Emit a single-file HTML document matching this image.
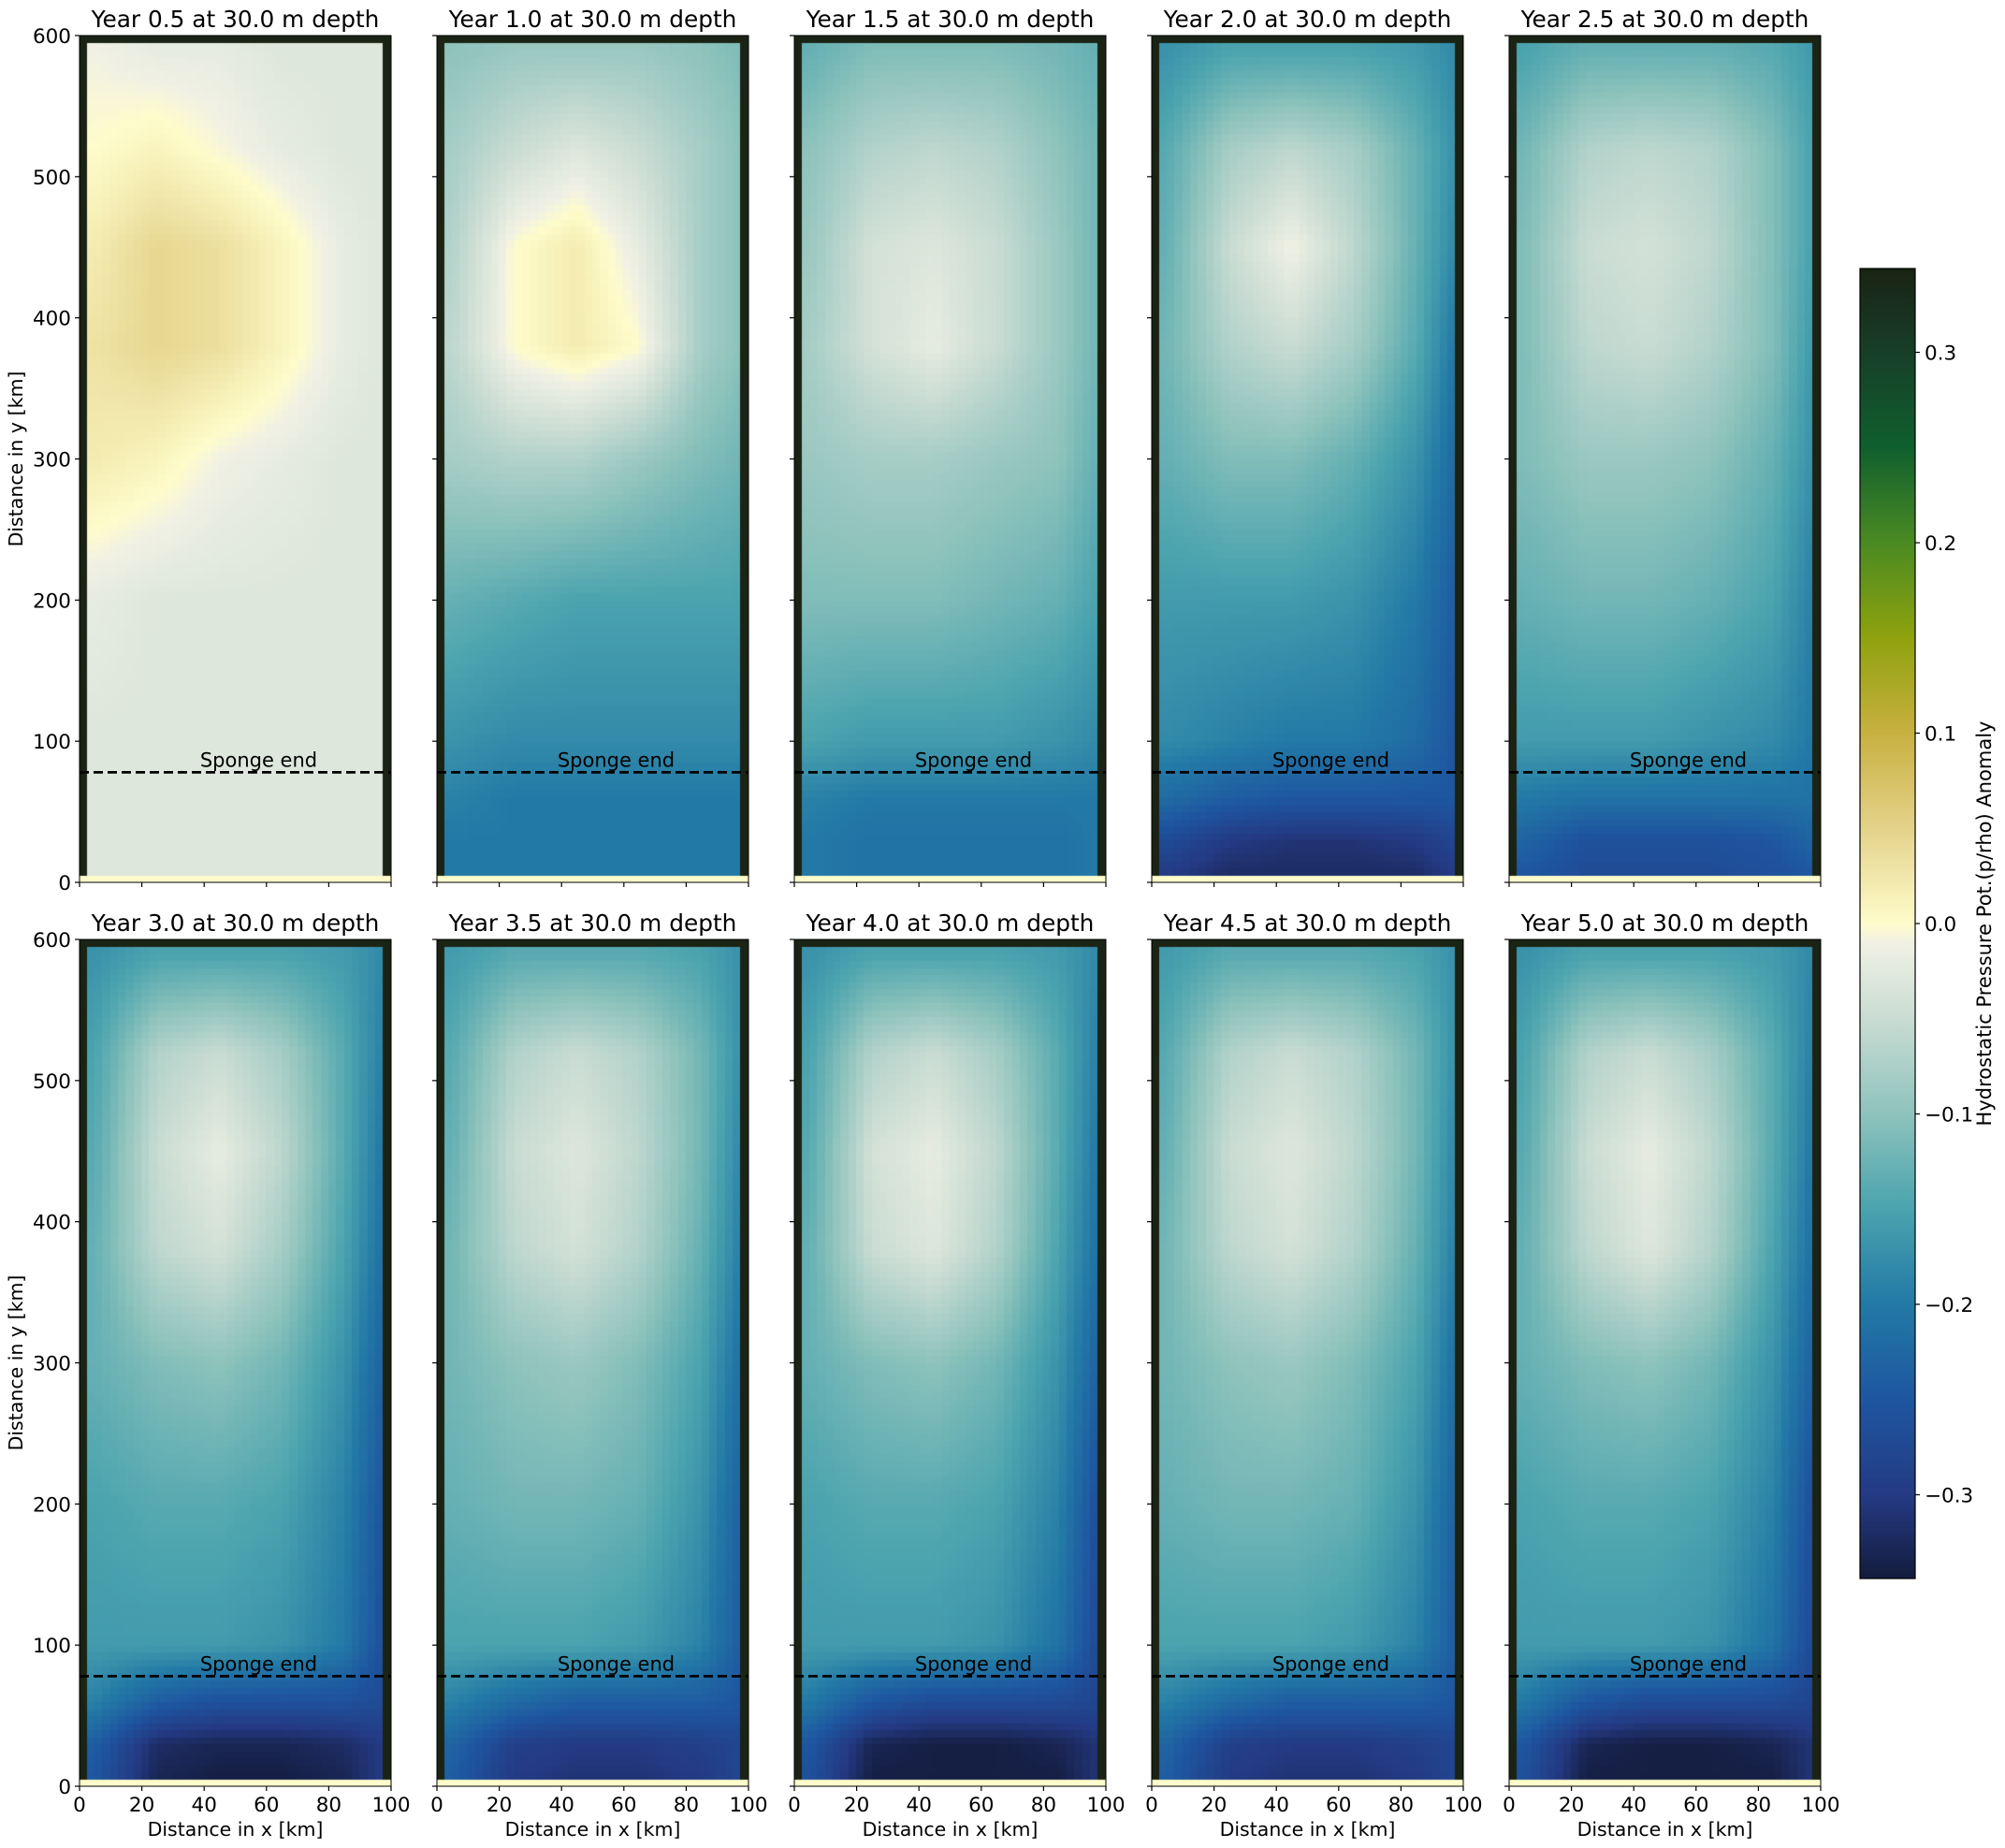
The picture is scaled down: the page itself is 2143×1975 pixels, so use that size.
<!DOCTYPE html>
<html><head><meta charset="utf-8"><style>
body{margin:0;background:#fff;}
#root{position:relative;width:2143px;height:1975px;overflow:hidden;font-family:"DejaVu Sans","Liberation Sans",sans-serif;}
canvas{position:absolute;}
svg{position:absolute;left:0;top:0;}
</style></head><body>
<div id="root">
<svg id="ov" width="2143" height="1975"></svg>
</div>
<script>
// ---- data ----
const years = ["0.5","1.0","1.5","2.0","2.5","3.0","3.5","4.0","4.5","5.0"];
const gridX = [5,25,45,65,85,97];
const gridY = [5,30,60,100,200,300,380,450,520,590];
const xTicks = [0,20,40,60,80,100];
const yTicks = [0,100,200,300,400,500,600];
const cbTicks = [-0.3,-0.2,-0.1,0.0,0.1,0.2,0.3];
const cbTickLabels = ["\u22120.3","\u22120.2","\u22120.1","0.0","0.1","0.2","0.3"];
const spongeY = 78;
const f05 = [
[-0.03,-0.03,-0.03,-0.03,-0.03,-0.03],
[-0.03,-0.03,-0.03,-0.03,-0.03,-0.03],
[-0.03,-0.03,-0.03,-0.03,-0.03,-0.03],
[-0.03,-0.03,-0.03,-0.03,-0.03,-0.03],
[-0.02,-0.03,-0.03,-0.03,-0.03,-0.03],
[0.02,0.01,-0.01,-0.02,-0.03,-0.03],
[0.03,0.045,0.035,0.01,-0.02,-0.03],
[0.02,0.045,0.035,0.01,-0.02,-0.03],
[0.0,0.01,-0.005,-0.02,-0.03,-0.03],
[-0.01,-0.02,-0.02,-0.03,-0.03,-0.03]];
const f10 = [
[-0.2,-0.2,-0.2,-0.2,-0.2,-0.2],
[-0.2,-0.2,-0.2,-0.2,-0.2,-0.2],
[-0.19,-0.2,-0.2,-0.2,-0.2,-0.2],
[-0.17,-0.18,-0.18,-0.18,-0.18,-0.18],
[-0.13,-0.14,-0.15,-0.15,-0.15,-0.15],
[-0.08,-0.07,-0.07,-0.09,-0.11,-0.12],
[-0.06,0.0,0.02,0.0,-0.08,-0.1],
[-0.07,0.0,0.02,-0.02,-0.08,-0.1],
[-0.08,-0.05,-0.03,-0.05,-0.08,-0.1],
[-0.1,-0.09,-0.09,-0.09,-0.1,-0.11]];
const f15 = [
[-0.2,-0.21,-0.21,-0.21,-0.21,-0.2],
[-0.2,-0.21,-0.21,-0.21,-0.21,-0.2],
[-0.19,-0.2,-0.2,-0.2,-0.2,-0.2],
[-0.15,-0.16,-0.16,-0.16,-0.17,-0.18],
[-0.11,-0.11,-0.11,-0.12,-0.13,-0.15],
[-0.09,-0.08,-0.08,-0.09,-0.1,-0.13],
[-0.08,-0.04,-0.02,-0.05,-0.09,-0.12],
[-0.09,-0.04,-0.03,-0.05,-0.09,-0.12],
[-0.1,-0.07,-0.06,-0.07,-0.1,-0.12],
[-0.13,-0.11,-0.11,-0.11,-0.12,-0.13]];
const f20 = [
[-0.3,-0.32,-0.32,-0.32,-0.32,-0.3],
[-0.27,-0.3,-0.31,-0.31,-0.3,-0.28],
[-0.22,-0.24,-0.25,-0.25,-0.25,-0.25],
[-0.18,-0.19,-0.2,-0.2,-0.22,-0.25],
[-0.16,-0.16,-0.16,-0.17,-0.2,-0.24],
[-0.13,-0.11,-0.11,-0.13,-0.17,-0.22],
[-0.12,-0.07,-0.05,-0.08,-0.14,-0.2],
[-0.13,-0.05,-0.01,-0.06,-0.13,-0.18],
[-0.14,-0.08,-0.06,-0.08,-0.13,-0.17],
[-0.17,-0.15,-0.15,-0.15,-0.16,-0.18]];
const f25 = [
[-0.25,-0.27,-0.27,-0.27,-0.26,-0.25],
[-0.23,-0.26,-0.26,-0.26,-0.25,-0.23],
[-0.2,-0.21,-0.21,-0.21,-0.21,-0.21],
[-0.16,-0.16,-0.16,-0.17,-0.18,-0.2],
[-0.13,-0.12,-0.12,-0.13,-0.15,-0.19],
[-0.11,-0.09,-0.09,-0.1,-0.13,-0.17],
[-0.11,-0.06,-0.05,-0.07,-0.11,-0.16],
[-0.11,-0.05,-0.04,-0.06,-0.11,-0.15],
[-0.12,-0.07,-0.06,-0.07,-0.11,-0.15],
[-0.15,-0.13,-0.13,-0.13,-0.14,-0.16]];
const f30 = [
[-0.25,-0.33,-0.34,-0.34,-0.33,-0.3],
[-0.24,-0.32,-0.33,-0.33,-0.32,-0.3],
[-0.19,-0.24,-0.26,-0.26,-0.26,-0.27],
[-0.16,-0.16,-0.16,-0.17,-0.2,-0.26],
[-0.15,-0.14,-0.14,-0.15,-0.19,-0.25],
[-0.13,-0.11,-0.1,-0.12,-0.17,-0.23],
[-0.13,-0.06,-0.04,-0.08,-0.15,-0.21],
[-0.14,-0.05,-0.02,-0.06,-0.14,-0.2],
[-0.15,-0.07,-0.05,-0.08,-0.14,-0.19],
[-0.17,-0.15,-0.15,-0.15,-0.16,-0.18]];
const f35 = [
[-0.24,-0.3,-0.31,-0.31,-0.3,-0.28],
[-0.23,-0.29,-0.3,-0.3,-0.29,-0.28],
[-0.19,-0.22,-0.24,-0.24,-0.24,-0.25],
[-0.15,-0.15,-0.15,-0.16,-0.19,-0.24],
[-0.13,-0.12,-0.12,-0.13,-0.17,-0.23],
[-0.12,-0.1,-0.09,-0.11,-0.15,-0.21],
[-0.12,-0.06,-0.04,-0.07,-0.13,-0.19],
[-0.13,-0.05,-0.03,-0.06,-0.12,-0.18],
[-0.14,-0.07,-0.05,-0.07,-0.12,-0.17],
[-0.16,-0.14,-0.14,-0.14,-0.15,-0.17]];
const f40 = [
[-0.26,-0.34,-0.34,-0.34,-0.34,-0.31],
[-0.25,-0.33,-0.34,-0.34,-0.33,-0.31],
[-0.2,-0.25,-0.27,-0.27,-0.27,-0.28],
[-0.16,-0.16,-0.16,-0.17,-0.21,-0.27],
[-0.15,-0.14,-0.14,-0.15,-0.19,-0.26],
[-0.13,-0.11,-0.1,-0.12,-0.17,-0.23],
[-0.13,-0.05,-0.03,-0.07,-0.15,-0.21],
[-0.14,-0.04,-0.02,-0.06,-0.14,-0.2],
[-0.15,-0.07,-0.05,-0.08,-0.14,-0.19],
[-0.17,-0.15,-0.15,-0.15,-0.16,-0.18]];
const f45 = [
[-0.24,-0.3,-0.31,-0.31,-0.3,-0.28],
[-0.23,-0.29,-0.3,-0.3,-0.29,-0.28],
[-0.19,-0.22,-0.24,-0.24,-0.24,-0.25],
[-0.15,-0.15,-0.15,-0.16,-0.19,-0.24],
[-0.13,-0.12,-0.12,-0.13,-0.17,-0.23],
[-0.12,-0.1,-0.09,-0.11,-0.15,-0.21],
[-0.12,-0.06,-0.04,-0.07,-0.13,-0.19],
[-0.13,-0.05,-0.03,-0.06,-0.12,-0.18],
[-0.14,-0.07,-0.05,-0.07,-0.12,-0.17],
[-0.16,-0.14,-0.14,-0.14,-0.15,-0.17]];
const f50 = [
[-0.26,-0.34,-0.34,-0.34,-0.34,-0.31],
[-0.25,-0.33,-0.34,-0.34,-0.33,-0.31],
[-0.2,-0.25,-0.27,-0.27,-0.27,-0.28],
[-0.16,-0.16,-0.16,-0.17,-0.21,-0.27],
[-0.15,-0.14,-0.14,-0.15,-0.19,-0.26],
[-0.13,-0.11,-0.1,-0.12,-0.17,-0.23],
[-0.13,-0.06,-0.03,-0.07,-0.15,-0.21],
[-0.14,-0.05,-0.02,-0.06,-0.14,-0.2],
[-0.15,-0.07,-0.05,-0.08,-0.14,-0.19],
[-0.17,-0.15,-0.15,-0.15,-0.16,-0.18]];
const fields = [f05,f10,f15,f20,f25,f30,f35,f40,f45,f50];

// ---- layout ----
const colLeft = [85,467,849,1231,1613], rowTop = [38,1004], PW = 333, PH = 905;
const VMAX = 0.344;
const stops = [[-0.344,"#141c3d"],[-0.3,"#243a84"],[-0.25,"#1e56a0"],[-0.2,"#2279a6"],[-0.15,"#4aa3ae"],[-0.1,"#8ec3bc"],[-0.05,"#c9dcd3"],[-0.01,"#f1f1e4"],[0,"#fefccb"],[0.05,"#e4d28a"],[0.1,"#c8b040"],[0.15,"#8fa20e"],[0.2,"#4a8a22"],[0.25,"#0f5f2e"],[0.3,"#173f28"],[0.344,"#1a2314"]];
function hex(h){return [parseInt(h.substr(1,2),16),parseInt(h.substr(3,2),16),parseInt(h.substr(5,2),16)];}
function cmap(v){
  v=Math.max(-VMAX,Math.min(VMAX,v));
  for(let i=0;i<stops.length-1;i++){
    if(v<=stops[i+1][0]){const a=hex(stops[i][1]),b=hex(stops[i+1][1]);const t=(v-stops[i][0])/(stops[i+1][0]-stops[i][0]);
      return "rgb("+a.map((c,k)=>Math.round(c+(b[k]-c)*t)).join(",")+")";}
  }
  return stops[stops.length-1][1];
}
function interp1(arr,v){
  if(v<=arr[0])return [0,0,0];
  if(v>=arr[arr.length-1])return [arr.length-1,arr.length-1,0];
  for(let i=0;i<arr.length-1;i++) if(v<=arr[i+1]) return [i,i+1,(v-arr[i])/(arr[i+1]-arr[i])];
}
function sample(f,x,y){
  const [i0,i1,tx]=interp1(gridX,x),[j0,j1,ty]=interp1(gridY,y);
  const a=f[j0][i0]*(1-tx)+f[j0][i1]*tx, b=f[j1][i0]*(1-tx)+f[j1][i1]*tx;
  return a*(1-ty)+b*ty;
}
const root=document.getElementById('root'), ov=document.getElementById('ov');
const NS="http://www.w3.org/2000/svg";
function mk(tag,attrs,parent){const e=document.createElementNS(NS,tag);for(const k in attrs)e.setAttribute(k,attrs[k]);(parent||ov).appendChild(e);return e;}

years.forEach((yr,p)=>{
  const c=p%5,r=Math.floor(p/5),L=colLeft[c],T=rowTop[r];
  const sx=x=>L+x/100*PW, sy=y=>T+PH-y/600*PH;
  const cv=document.createElement('canvas');
  
  
  cv.width=PW;cv.height=PH;cv.style.left=L+'px';cv.style.top=T+'px';
  root.insertBefore(cv,ov);
  const ctx=cv.getContext('2d');
  const f=fields[p];
  for(let ix=0;ix<40;ix++){
    for(let iy=0;iy<120;iy++){
      const x0=ix*2.5,y0=iy*5,xc=x0+1.25,yc=y0+2.5;
      let col;
      if(iy===0) col=cmap(0);
      else if(ix===0||ix===39||iy===119) col=cmap(VMAX);
      else col=cmap(sample(f,xc,yc));
      ctx.fillStyle=col;
      const px0=Math.floor(sx(x0)-L),px1=Math.ceil(sx(x0+2.5)-L),py0=Math.floor(sy(y0+5)-T),py1=Math.ceil(sy(y0)-T);
      ctx.fillRect(px0,py0,px1-px0,py1-py0);
    }
  }
  const g=mk('g',{});
  
  
  const sl=mk('line',{x1:L,x2:L+PW,y1:sy(spongeY),y2:sy(spongeY),stroke:'#000','stroke-width':2.8,'stroke-dasharray':'10,5'},g);
  
  
  const st=mk('text',{x:sx(57.5),y:sy(spongeY)-6,'font-size':21,'text-anchor':'middle',fill:'#000'},g);
  st.textContent='Sponge end';
  
  
  mk('rect',{x:L,y:T,width:PW,height:PH,fill:'none',stroke:'#000','stroke-width':1},g);
  const tt=mk('text',{x:L+PW/2,y:T-9,'font-size':24.8,'text-anchor':'middle',fill:'#000'},g);
  tt.textContent='Year '+yr+' at 30.0 m depth';
  
  
  xTicks.forEach(v=>{
    mk('line',{x1:sx(v),x2:sx(v),y1:T+PH,y2:T+PH+5,stroke:'#000','stroke-width':1.2},g);
    if(r===1){const t=mk('text',{x:sx(v),y:T+PH+27,'font-size':21.5,'text-anchor':'middle'},g);t.textContent=v;
      
      }
  });
  yTicks.forEach(v=>{
    mk('line',{x1:L-5,x2:L,y1:sy(v),y2:sy(v),stroke:'#000','stroke-width':1.2},g);
    if(c===0){const t=mk('text',{x:L-9,y:sy(v)+8,'font-size':21.5,'text-anchor':'end'},g);t.textContent=v;
      
      }
  });
  if(r===1){const t=mk('text',{x:L+PW/2,y:T+PH+53,'font-size':20.5,'text-anchor':'middle'},g);t.textContent='Distance in x [km]';
    
    }
  if(c===0){const yy=T+PH/2;const t=mk('text',{x:24,y:yy,'font-size':20.5,'text-anchor':'middle',transform:'rotate(-90 24 '+yy+')'},g);t.textContent='Distance in y [km]';
    
    }
});

const CBL=1988,CBR=2047,CBT=287,CBB=1687;
const cbY=v=>(CBT+CBB)/2-v/VMAX*(CBB-CBT)/2;
const cb=mk('g',{});


const defs=mk('defs',{},cb);
const lg=mk('linearGradient',{id:'cbg',x1:0,y1:1,x2:0,y2:0},defs);
stops.forEach(s=>mk('stop',{offset:((s[0]+VMAX)/(2*VMAX)).toFixed(4),'stop-color':s[1]},lg));
mk('rect',{x:CBL,y:CBT,width:CBR-CBL,height:CBB-CBT,fill:'url(#cbg)',stroke:'#000','stroke-width':1.2},cb);
cbTicks.forEach((v,i)=>{
  mk('line',{x1:CBR,x2:CBR+5,y1:cbY(v),y2:cbY(v),stroke:'#000','stroke-width':1.2},cb);
  const t=mk('text',{x:CBR+10,y:cbY(v)+8,'font-size':21.5},cb);t.textContent=cbTickLabels[i];
  
  
});
const cl=mk('text',{x:2128,y:987,'font-size':21,'text-anchor':'middle',transform:'rotate(-90 2128 987)'},cb);
cl.textContent='Hydrostatic Pressure Pot.(p/rho) Anomaly';


</script>
</body></html>
